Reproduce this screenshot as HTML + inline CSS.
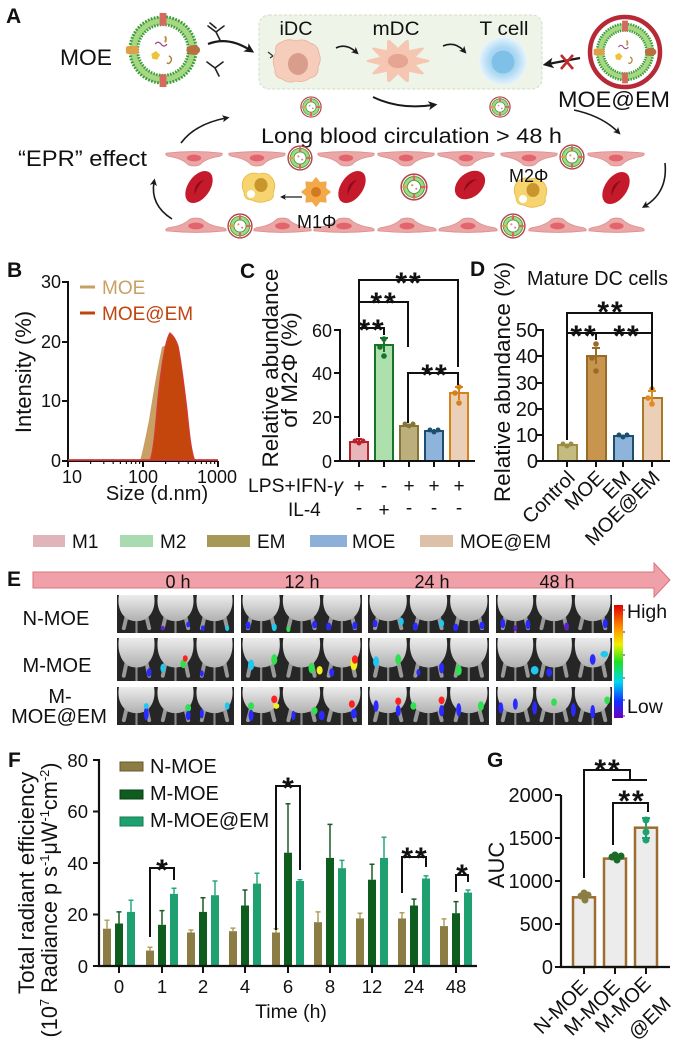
<!DOCTYPE html>
<html><head><meta charset="utf-8"><style>
html,body{margin:0;padding:0;background:#fff;width:700px;height:1042px;overflow:hidden}
svg{display:block}
text{font-family:"Liberation Sans",Arial,sans-serif;fill:#111}
</style></head><body>
<svg xmlns="http://www.w3.org/2000/svg" xmlns:xlink="http://www.w3.org/1999/xlink" width="700" height="1042" viewBox="0 0 700 1042">
<defs>
<marker id="ah" viewBox="0 0 10 10" refX="5" refY="5" markerWidth="4.5" markerHeight="4.5" orient="auto"><path d="M0,0 L10,5 L0,10 L2.5,5 Z" fill="#1a1a1a"/></marker>
<linearGradient id="mg" x1="0" y1="0" x2="0" y2="1"><stop offset="0" stop-color="#ececec"/><stop offset="1" stop-color="#b0b0b0"/></linearGradient>
<linearGradient id="cb" x1="0" y1="0" x2="0" y2="1">
<stop offset="0" stop-color="#e00000"/><stop offset="0.2" stop-color="#ff9000"/><stop offset="0.35" stop-color="#f0f000"/><stop offset="0.5" stop-color="#20e020"/><stop offset="0.68" stop-color="#00d8f0"/><stop offset="0.85" stop-color="#1030ff"/><stop offset="1" stop-color="#7000c0"/></linearGradient>
<radialGradient id="tg"><stop offset="0.55" stop-color="#a9d6f2"/><stop offset="1" stop-color="#e6f4fd"/></radialGradient>
<symbol id="lipo" viewBox="-40 -40 80 80">
 <circle r="34" fill="#fff"/>
 <circle r="30" fill="none" stroke="#a6d884" stroke-width="8"/>
 <circle r="34" fill="none" stroke="#3c9a3c" stroke-width="3" stroke-dasharray="1.8 1.4"/>
 <circle r="26" fill="none" stroke="#3c9a3c" stroke-width="3" stroke-dasharray="1.6 1.3"/>
 <rect x="-3.5" y="-38" width="7" height="13" fill="#d46a5e"/>
 <rect x="-3.5" y="25" width="7" height="13" fill="#d46a5e"/>
 <rect x="-38" y="-4" width="13" height="8" rx="2" fill="#e0a048"/>
 <ellipse cx="31" cy="0" rx="7" ry="5" fill="#b87040"/>
 <path d="M-8,-6 q3,-4 6,0 q3,4 6,0" stroke="#a04a8a" stroke-width="1.3" fill="none"/>
 <path d="M2,-14 q2,3 0,6" stroke="#c09040" stroke-width="2" fill="none"/>
 <path d="M-12,4 l5,-3 l4,4 l-3,5 l-5,-1 z" fill="#f0c23c"/>
 <path d="M6,6 q4,2 2,6 q-2,3 -4,1" stroke="#b08040" stroke-width="1.5" fill="none"/>
</symbol>
<symbol id="np" viewBox="-12 -12 24 24">
 <circle r="11" fill="#fff" stroke="#b8404a" stroke-width="1.3"/>
 <circle r="7.3" fill="none" stroke="#a6d884" stroke-width="3.2"/>
 <circle r="9" fill="none" stroke="#3c9a3c" stroke-width="0.8"/>
 <circle r="5.6" fill="none" stroke="#3c9a3c" stroke-width="0.8"/>
 <rect x="-1" y="-10" width="2" height="4.5" fill="#d46a5e"/>
 <rect x="-1" y="5.5" width="2" height="4.5" fill="#d46a5e"/>
 <rect x="-10" y="-1" width="4.5" height="2" fill="#e0a048"/>
 <rect x="5.5" y="-1" width="4.5" height="2" fill="#d46a5e"/>
 <circle cx="-1.5" cy="-1.5" r="1" fill="#d0a060"/><circle cx="2" cy="1.5" r="0.9" fill="#c080a0"/>
</symbol>
<symbol id="endo" viewBox="0 0 60 16" preserveAspectRatio="none">
 <path d="M1,3 Q30,0 59,3 Q60,5 56,6 Q42,8 36,14 Q30,16 24,14 Q18,8 4,6 Q0,5 1,3 Z" fill="#eba6a6" stroke="#dd8f8f" stroke-width="0.8"/>
 <ellipse cx="30" cy="7.5" rx="7.5" ry="3.2" fill="#e2656e"/>
</symbol>
<symbol id="mice" viewBox="0 0 120 40" preserveAspectRatio="none">
 <rect width="120" height="40" fill="#262626"/>
 <g stroke="#9a9a9a" stroke-width="4" stroke-linecap="round" fill="none">
  <path d="M10,22 L7,35 M30,22 L33,35 M50,22 L47,35 M70,22 L73,35 M90,22 L87,35 M110,22 L113,35"/>
 </g>
 <g stroke="#8a8a8a" stroke-width="2.2" fill="none"><path d="M20,27 V40 M60,27 V40 M100,27 V40"/></g>
 <g fill="url(#mg)">
  <path d="M2,0 H38 C40,12 36,22 28,26 Q20,29 12,26 C4,22 0,12 2,0 Z"/>
  <path d="M42,0 H78 C80,12 76,22 68,26 Q60,29 52,26 C44,22 40,12 42,0 Z"/>
  <path d="M82,0 H118 C120,12 116,22 108,26 Q100,29 92,26 C84,22 80,12 82,0 Z"/>
 </g>
</symbol>
</defs>

<!-- ============ PANEL A ============ -->
<text x="6" y="23" font-size="21" font-weight="bold">A</text>
<text x="60" y="65" font-size="22" textLength="52" lengthAdjust="spacingAndGlyphs">MOE</text>
<use href="#lipo" x="124" y="11" width="78" height="78"/>
<g stroke="#222" stroke-width="1.6" fill="none" stroke-linecap="round">
 <path d="M208,26 L216,32 L224,26 M216,32 L220,40"/>
 <path d="M210,23 L216,28"/>
 <path d="M207,62 L215,68 L223,62 M215,68 L219,76"/>
</g>
<path d="M208,44 Q228,36 250,50" stroke="#1a1a1a" stroke-width="2.2" fill="none" marker-end="url(#ah)"/>
<rect x="259" y="15" width="283" height="74" rx="10" fill="#eef5e8" stroke="#cfdcc4" stroke-dasharray="3 2"/>
<text x="296" y="35" font-size="19" text-anchor="middle" textLength="33" lengthAdjust="spacingAndGlyphs">iDC</text>
<text x="396" y="35" font-size="19" text-anchor="middle" textLength="47" lengthAdjust="spacingAndGlyphs">mDC</text>
<text x="504" y="35" font-size="19" text-anchor="middle" textLength="49" lengthAdjust="spacingAndGlyphs">T cell</text>
<path d="M276,52 Q274,44 282,42 Q288,38 296,41 Q304,38 310,43 Q318,45 319,53 Q322,60 318,67 Q319,76 310,78 Q304,83 296,81 Q288,84 282,79 Q274,77 275,69 Q271,60 276,52 Z" fill="#f6cdbb" stroke="#e8b09c" stroke-width="0.8"/>
<ellipse cx="298" cy="64" rx="10" ry="11" fill="#d99d8e"/>
<path d="M268,52 L273,56 M270,58 L273,56" stroke="#333" stroke-width="1.2" fill="none"/>
<path d="M336,48 Q346,43 356,52" stroke="#1a1a1a" stroke-width="1.6" fill="none" marker-end="url(#ah)"/>
<g transform="translate(398,61) scale(1.35,0.95)">
 <polygon points="22,0 11.4,3.7 17.8,12.9 7.1,9.7 6.8,20.9 0,12 -6.8,20.9 -7.1,9.7 -17.8,12.9 -11.4,3.7 -22,0 -11.4,-3.7 -17.8,-12.9 -7.1,-9.7 -6.8,-20.9 0,-12 6.8,-20.9 7.1,-9.7 17.8,-12.9 11.4,-3.7" fill="#f5c6b2" stroke="#f5c6b2" stroke-width="2.5" stroke-linejoin="round"/>
 <circle r="7.5" fill="#e6a592"/>
</g>
<path d="M443,46 Q455,41 464,51" stroke="#1a1a1a" stroke-width="1.6" fill="none" marker-end="url(#ah)"/>
<circle cx="503" cy="61" r="24" fill="url(#tg)"/>
<circle cx="503" cy="62" r="11.5" fill="#7fc0e8"/>
<path d="M580,58 L548,64" stroke="#1a1a1a" stroke-width="2.4" fill="none" marker-end="url(#ah)"/>
<path d="M561,55 L573,69 M573,55 L561,69" stroke="#c0282a" stroke-width="2.6"/>
<circle cx="625" cy="52" r="35" fill="#fff" stroke="#b52a36" stroke-width="4.5"/>
<use href="#lipo" x="592" y="19" width="66" height="66"/>
<text x="558" y="107" font-size="22" textLength="112" lengthAdjust="spacingAndGlyphs">MOE@EM</text>
<use href="#np" x="300" y="96" width="22" height="22"/>
<use href="#np" x="489" y="96" width="22" height="22"/>
<path d="M373,97 Q400,110 433,105" stroke="#1a1a1a" stroke-width="2" fill="none" marker-end="url(#ah)"/>
<text x="261" y="143" font-size="21" textLength="301" lengthAdjust="spacingAndGlyphs">Long blood circulation &gt; 48 h</text>
<path d="M181,143 Q195,124 226,118" stroke="#1a1a1a" stroke-width="1.6" fill="none" marker-end="url(#ah)"/>
<path d="M574,110 Q602,116 618,132" stroke="#1a1a1a" stroke-width="1.6" fill="none" marker-end="url(#ah)"/>
<text x="18" y="166" font-size="22" textLength="129" lengthAdjust="spacingAndGlyphs">“EPR” effect</text>
<use href="#endo" x="165" y="150" width="58" height="17"/>
<use href="#endo" x="228" y="150" width="58" height="17"/>
<use href="#endo" x="317" y="150" width="58" height="17"/>
<use href="#endo" x="377" y="150" width="58" height="17"/>
<use href="#endo" x="437" y="150" width="58" height="17"/>
<use href="#endo" x="500" y="150" width="58" height="17"/>
<use href="#endo" x="587" y="150" width="58" height="17"/>
<g transform="translate(0,451) scale(1,-1)">
<use href="#endo" x="165" y="217" width="62" height="17"/>
<use href="#endo" x="253" y="217" width="59" height="17"/>
<use href="#endo" x="313" y="217" width="62" height="17"/>
<use href="#endo" x="377" y="217" width="60" height="17"/>
<use href="#endo" x="438" y="217" width="60" height="17"/>
<use href="#endo" x="528" y="217" width="59" height="17"/>
<use href="#endo" x="588" y="217" width="57" height="17"/>
</g>
<use href="#np" x="287" y="145" width="26" height="26"/>
<use href="#np" x="559" y="144" width="26" height="26"/>
<use href="#np" x="400" y="173" width="28" height="28"/>
<use href="#np" x="227" y="213" width="26" height="26"/>
<use href="#np" x="500" y="213" width="26" height="26"/>
<g transform="translate(199,187) rotate(-55)"><ellipse rx="18" ry="11" fill="#c41a2b"/><path d="M-9,1 Q0,-7 9,0 Q0,-2 -9,1 Z" fill="#8e0c1a"/></g>
<g transform="translate(352,187) rotate(-55)"><ellipse rx="18" ry="11" fill="#c41a2b"/><path d="M-9,1 Q0,-7 9,0 Q0,-2 -9,1 Z" fill="#8e0c1a"/></g>
<g transform="translate(470,185) rotate(-40)"><ellipse rx="17" ry="12" fill="#c41a2b"/><path d="M-9,1 Q0,-7 9,0 Q0,-2 -9,1 Z" fill="#8e0c1a"/></g>
<g transform="translate(616,188) rotate(-55)"><ellipse rx="18" ry="11" fill="#c41a2b"/><path d="M-9,1 Q0,-7 9,0 Q0,-2 -9,1 Z" fill="#8e0c1a"/></g>
<g transform="translate(259,187)">
 <path d="M-14,-10 Q-8,-16 0,-13 Q8,-16 13,-9 Q18,-2 14,6 Q16,12 8,14 Q0,17 -7,13 Q-15,13 -15,5 Q-19,-3 -14,-10 Z" fill="#f6d470" stroke="#e8b840" stroke-width="0.8"/>
 <ellipse cx="2" cy="-2" rx="6.5" ry="7" fill="#c9962e"/><circle cx="-8" cy="7" r="4" fill="#fff"/>
</g>
<g transform="translate(531,192)">
 <path d="M-14,-10 Q-8,-16 0,-13 Q8,-16 13,-9 Q18,-2 14,6 Q16,12 8,14 Q0,17 -7,13 Q-15,13 -15,5 Q-19,-3 -14,-10 Z" fill="#f6d470" stroke="#e8b840" stroke-width="0.8"/>
 <ellipse cx="2" cy="-2" rx="6.5" ry="7" fill="#c9962e"/><circle cx="-8" cy="7" r="4" fill="#fff"/>
</g>
<g transform="translate(316,192)">
 <polygon points="14,0 9.2,3.8 9.9,9.9 3.8,9.2 0,14 -3.8,9.2 -9.9,9.9 -9.2,3.8 -14,0 -9.2,-3.8 -9.9,-9.9 -3.8,-9.2 0,-14 3.8,-9.2 9.9,-9.9 9.2,-3.8" fill="#f3a94a" stroke="#f3a94a" stroke-width="1.5" stroke-linejoin="round"/>
 <circle r="5" fill="#d27a20"/>
</g>
<path d="M302,197 L283,197" stroke="#1a1a1a" stroke-width="1.3" fill="none" marker-end="url(#ah)"/>
<text x="509" y="182" font-size="18">M2Φ</text>
<text x="297" y="228" font-size="18">M1Φ</text>
<path d="M172,219 Q150,205 154,182" stroke="#1a1a1a" stroke-width="1.6" fill="none" marker-end="url(#ah)"/>
<path d="M665,163 Q668,192 645,206" stroke="#1a1a1a" stroke-width="1.6" fill="none" marker-end="url(#ah)"/>

<!-- ============ PANEL B ============ -->
<text x="7" y="277" font-size="21" font-weight="bold">B</text>
<path d="M140,461 C143,450 146,435 149,420 C153,395 157,370 162,347 L164,346 C168,345 172,350 176,360 C181,380 185,420 189,461 Z" fill="#c9a063"/>
<path d="M150,461 C154,450 156,420 158,398 C161,370 165,340 170,333 C174,336 176,340 178,346 C181,360 184,385 187,410 C189,430 191,452 195,461 Z" fill="#c4460c" stroke="#d63a3a" stroke-width="1.2"/>
<path d="M68,281 V461 H218" stroke="#111" stroke-width="2" fill="none"/>
<path d="M68,460 H218" stroke="#d03a3a" stroke-width="1.8"/>
<g stroke="#111" stroke-width="2">
<path d="M62,282 H68 M62,342 H68 M62,401 H68 M62,461 H68"/>
<path d="M68,461 V467 M143,461 V467 M218,461 V467"/>
</g>
<g stroke="#111" stroke-width="1.2">
<path d="M90.6,461 v3 M103.8,461 v3 M113.2,461 v3 M120.4,461 v3 M126.4,461 v3 M131.4,461 v3 M135.7,461 v3 M139.6,461 v3 M165.6,461 v3 M178.8,461 v3 M188.2,461 v3 M195.4,461 v3 M201.4,461 v3 M206.4,461 v3 M210.7,461 v3 M214.6,461 v3"/>
</g>
<g font-size="18" text-anchor="end">
<text x="61" y="288">30</text><text x="61" y="348">20</text><text x="61" y="407">10</text><text x="61" y="467">0</text>
</g>
<g font-size="18" text-anchor="middle">
<text x="72" y="483">10</text><text x="143" y="483">100</text><text x="217" y="483">1000</text>
</g>
<text x="157" y="500" font-size="20" text-anchor="middle">Size (d.nm)</text>
<text transform="translate(31,372) rotate(-90)" font-size="22" text-anchor="middle">Intensity (%)</text>
<path d="M80,287 H95" stroke="#c9a063" stroke-width="3"/>
<text x="102" y="294" font-size="19" style="fill:#c9a063">MOE</text>
<path d="M80,313 H95" stroke="#c0440e" stroke-width="3"/>
<text x="102" y="320" font-size="19" style="fill:#c0440e">MOE@EM</text>

<!-- ============ PANEL C ============ -->
<text x="240" y="278" font-size="21" font-weight="bold">C</text>
<text transform="translate(278,368) rotate(-90)" font-size="22.5" text-anchor="middle">Relative abundance</text>
<text transform="translate(297,370) rotate(-90)" font-size="22.5" text-anchor="middle">of M2Φ (%)</text>
<g stroke-width="2">
<rect x="350" y="442" width="18" height="19" fill="#e8b6ba" stroke="#b8222c"/>
<rect x="375" y="345" width="18" height="116" fill="#aee0ae" stroke="#18742a"/>
<rect x="400" y="426" width="18" height="35" fill="#bbb07c" stroke="#857536"/>
<rect x="425" y="431" width="18" height="30" fill="#8fb4dc" stroke="#1c4f6e"/>
<rect x="450" y="393" width="18" height="68" fill="#ead0b8" stroke="#d8801a"/>
</g>
<g stroke-width="2" fill="none">
<path d="M359,439 V445 M356,439 H362" stroke="#b8222c"/>
<path d="M384,338 V352 M380,338 H388" stroke="#18742a"/>
<path d="M459,387 V400 M455,387 H463" stroke="#d8801a"/>
<path d="M434,429 V433" stroke="#1c4f6e"/>
</g>
<g>
<circle cx="355" cy="441" r="2.5" fill="#b8222c"/><circle cx="359" cy="443" r="2.5" fill="#b8222c"/><circle cx="363" cy="441" r="2.5" fill="#b8222c"/>
<circle cx="384" cy="339" r="2.8" fill="#18742a"/><circle cx="380" cy="347" r="2.8" fill="#18742a"/><circle cx="384" cy="356" r="2.8" fill="#18742a"/>
<circle cx="405" cy="424" r="2.5" fill="#857536"/><circle cx="409" cy="426" r="2.5" fill="#857536"/><circle cx="413" cy="424" r="2.5" fill="#857536"/>
<circle cx="430" cy="430" r="2.5" fill="#1c4f6e"/><circle cx="434" cy="432" r="2.5" fill="#1c4f6e"/><circle cx="438" cy="430" r="2.5" fill="#1c4f6e"/>
<circle cx="459" cy="387" r="2.8" fill="#d8801a"/><circle cx="455" cy="393" r="2.8" fill="#d8801a"/><circle cx="459" cy="403" r="2.8" fill="#d8801a"/>
</g>
<path d="M340,329 V461 H475" stroke="#111" stroke-width="2" fill="none"/>
<g stroke="#111" stroke-width="2">
<path d="M334,330 H340 M334,373 H340 M334,417 H340 M334,461 H340"/>
<path d="M359,461 V467 M384,461 V467 M409,461 V467 M434,461 V467 M459,461 V467"/>
</g>
<g font-size="18" text-anchor="end">
<text x="332" y="337">60</text><text x="332" y="380">40</text><text x="332" y="424">20</text><text x="332" y="468">0</text>
</g>
<g stroke="#111" stroke-width="2" fill="none">
<path d="M359,437 V280 H458 V367"/>
<path d="M359,302 H408 V347"/>
<path d="M359,328 H384 V335"/>
<path d="M408,423 V373 H458 V385"/>
</g>
<g font-size="30" font-weight="bold" text-anchor="middle" letter-spacing="2">
<text x="372" y="340">**</text><text x="384" y="313">**</text><text x="409" y="293">**</text><text x="435" y="385">**</text>
</g>
<text x="248" y="492" font-size="19" textLength="95" lengthAdjust="spacingAndGlyphs">LPS+IFN-<tspan font-style="italic">γ</tspan></text>
<text x="288" y="516" font-size="19">IL-4</text>
<g font-size="19" text-anchor="middle">
<text x="359" y="492">+</text><text x="384" y="492">-</text><text x="409" y="492">+</text><text x="434" y="492">+</text><text x="459" y="492">+</text>
<text x="359" y="514">-</text><text x="384" y="516">+</text><text x="409" y="514">-</text><text x="434" y="514">-</text><text x="459" y="514">-</text>
</g>

<!-- ============ PANEL D ============ -->
<text x="470" y="276" font-size="21" font-weight="bold">D</text>
<text x="527" y="285" font-size="20" textLength="141" lengthAdjust="spacingAndGlyphs">Mature DC cells</text>
<text transform="translate(510,382) rotate(-90)" font-size="22.5" text-anchor="middle">Relative abundance (%)</text>
<g stroke-width="2">
<rect x="558" y="445" width="19" height="16" fill="#c4bb80" stroke="#9c8c42"/>
<rect x="587" y="356" width="19" height="105" fill="#c8954f" stroke="#9a6b28"/>
<rect x="614" y="436" width="19" height="25" fill="#8fb4dc" stroke="#1c4f6e"/>
<rect x="643" y="398" width="19" height="63" fill="#ebcfb6" stroke="#a87a28"/>
</g>
<g stroke-width="2" fill="none">
<path d="M596,348 V364 M592,348 H600" stroke="#9a6b28"/>
<path d="M652,391 V405 M648,391 H656" stroke="#e08a20"/>
</g>
<circle cx="563" cy="444" r="2.5" fill="#9c8c42"/><circle cx="567" cy="446" r="2.5" fill="#9c8c42"/><circle cx="571" cy="444" r="2.5" fill="#9c8c42"/>
<circle cx="596" cy="344" r="2.8" fill="#9a6b28"/><circle cx="592" cy="358" r="2.8" fill="#9a6b28"/><circle cx="596" cy="371" r="2.8" fill="#9a6b28"/>
<circle cx="619" cy="435" r="2.5" fill="#1c4f6e"/><circle cx="623" cy="437" r="2.5" fill="#1c4f6e"/><circle cx="627" cy="435" r="2.5" fill="#1c4f6e"/>
<circle cx="652" cy="389" r="2.8" fill="#e08a20"/><circle cx="648" cy="398" r="2.8" fill="#e08a20"/><circle cx="652" cy="404" r="2.8" fill="#e08a20"/>
<path d="M543,329 V461 H670" stroke="#111" stroke-width="2" fill="none"/>
<g stroke="#111" stroke-width="2">
<path d="M537,330 H543 M537,356 H543 M537,383 H543 M537,409 H543 M537,435 H543 M537,461 H543"/>
<path d="M567,461 V467 M596,461 V467 M623,461 V467 M652,461 V467"/>
</g>
<g font-size="20" text-anchor="end">
<text x="538" y="337">50</text><text x="538" y="363">40</text><text x="538" y="390">30</text><text x="538" y="416">20</text><text x="538" y="442">10</text><text x="538" y="468">0</text>
</g>
<g stroke="#111" stroke-width="2" fill="none">
<path d="M567,440 V313 H652 V333"/>
<path d="M567,333 H596 V340"/>
<path d="M596,333 H652 V390"/>
</g>
<g font-size="30" font-weight="bold" text-anchor="middle" letter-spacing="2">
<text x="611" y="322">**</text><text x="584" y="346">**</text><text x="627" y="346">**</text>
</g>
<g font-size="20" text-anchor="end">
<text transform="translate(576,479) rotate(-45)">Control</text>
<text transform="translate(605,479) rotate(-45)">MOE</text>
<text transform="translate(632,479) rotate(-45)">EM</text>
<text transform="translate(661,479) rotate(-45)">MOE@EM</text>
</g>

<!-- ============ Legend row ============ -->
<rect x="33" y="535" width="32" height="12" fill="#e0b4b8"/><text x="72" y="548" font-size="19">M1</text>
<rect x="120" y="535" width="33" height="12" fill="#a8dcb0"/><text x="160" y="548" font-size="19">M2</text>
<rect x="207" y="535" width="43" height="12" fill="#a89858"/><text x="257" y="548" font-size="19">EM</text>
<rect x="310" y="535" width="37" height="12" fill="#8cb0d8"/><text x="352" y="548" font-size="19">MOE</text>
<rect x="420" y="535" width="33" height="12" fill="#dcc0a8"/><text x="460" y="548" font-size="19">MOE@EM</text>

<!-- ============ PANEL E ============ -->
<text x="7" y="586" font-size="21" font-weight="bold">E</text>
<polygon points="33,572 654,572 654,563 670,580 654,597 654,588 33,588" fill="#f0a0a8" stroke="#d9737f" stroke-width="1"/>
<g font-size="18" text-anchor="middle">
<text x="178" y="588">0 h</text><text x="302" y="588">12 h</text><text x="432" y="588">24 h</text><text x="557" y="588">48 h</text>
</g>
<g font-size="20" text-anchor="middle">
<text x="56" y="625">N-MOE</text><text x="57" y="672">M-MOE</text><text x="60" y="703">M-</text><text x="59" y="723">MOE@EM</text>
</g>
<g stroke="none">
<g transform="translate(117,595) scale(0.975,0.95)"><use href="#mice" width="120" height="40"/>
 <ellipse cx="73" cy="31" rx="2" ry="3" fill="#2a2aff"/><ellipse cx="88" cy="35" rx="2" ry="3" fill="#2a2aff"/><ellipse cx="47" cy="35" rx="2" ry="2.5" fill="#6020d0"/><ellipse cx="113" cy="35" rx="2" ry="3" fill="#20c8f0"/></g>
<g transform="translate(241,595) scale(1.008,0.95)"><use href="#mice" width="120" height="40"/>
 <ellipse cx="7" cy="32" rx="2.5" ry="4" fill="#2a2aff"/><ellipse cx="33" cy="34" rx="2.5" ry="4" fill="#20c8f0"/><ellipse cx="47" cy="36" rx="2" ry="3" fill="#30e050"/><ellipse cx="73" cy="31" rx="2.5" ry="4" fill="#2a2aff"/><ellipse cx="87" cy="33" rx="2.5" ry="4" fill="#2a2aff"/><ellipse cx="113" cy="32" rx="2.5" ry="4" fill="#2a2aff"/></g>
<g transform="translate(368,595) scale(1.008,0.95)"><use href="#mice" width="120" height="40"/>
 <ellipse cx="7" cy="30" rx="2.5" ry="4" fill="#2a2aff"/><ellipse cx="33" cy="28" rx="2.5" ry="4" fill="#20c8f0"/><ellipse cx="47" cy="33" rx="2.5" ry="4" fill="#2a2aff"/><ellipse cx="73" cy="30" rx="2.5" ry="4" fill="#20c8f0"/><ellipse cx="87" cy="34" rx="2.5" ry="4" fill="#2a2aff"/><ellipse cx="113" cy="32" rx="2.5" ry="4" fill="#2a2aff"/></g>
<g transform="translate(496,595) scale(0.967,0.95)"><use href="#mice" width="120" height="40"/>
 <ellipse cx="7" cy="30" rx="2.5" ry="5" fill="#2a2aff"/><ellipse cx="20" cy="35" rx="2" ry="3" fill="#6020d0"/><ellipse cx="33" cy="31" rx="2.5" ry="5" fill="#2a2aff"/><ellipse cx="73" cy="33" rx="2.5" ry="4" fill="#6020d0"/><ellipse cx="113" cy="30" rx="2.5" ry="5" fill="#2a2aff"/></g>
<g transform="translate(117,638) scale(0.975,1.075)"><use href="#mice" width="120" height="40"/>
 <ellipse cx="33" cy="32" rx="2.5" ry="4" fill="#2a2aff"/><ellipse cx="47" cy="28" rx="2.5" ry="4" fill="#20c8f0"/><ellipse cx="68" cy="24" rx="3" ry="4" fill="#30e050"/><ellipse cx="70" cy="19" rx="2.5" ry="3" fill="#ff2020"/><ellipse cx="87" cy="33" rx="2" ry="3" fill="#2a2aff"/></g>
<g transform="translate(241,638) scale(1.008,1.075)"><use href="#mice" width="120" height="40"/>
 <ellipse cx="10" cy="25" rx="3" ry="5" fill="#20c8f0"/><ellipse cx="33" cy="20" rx="3" ry="5" fill="#30e050"/><ellipse cx="70" cy="28" rx="3" ry="5" fill="#30e050"/><ellipse cx="78" cy="30" rx="3" ry="4" fill="#f0f020"/><ellipse cx="112" cy="24" rx="3.5" ry="6" fill="#f0f020"/><ellipse cx="113" cy="20" rx="3" ry="4" fill="#ff2020"/><ellipse cx="90" cy="32" rx="2.5" ry="4" fill="#2a2aff"/></g>
<g transform="translate(368,638) scale(1.008,1.075)"><use href="#mice" width="120" height="40"/>
 <ellipse cx="8" cy="22" rx="3" ry="5" fill="#20c8f0"/><ellipse cx="30" cy="20" rx="3" ry="5" fill="#30e050"/><ellipse cx="73" cy="28" rx="2.5" ry="5" fill="#2a2aff"/><ellipse cx="90" cy="30" rx="3" ry="5" fill="#30e050"/><ellipse cx="50" cy="32" rx="2" ry="3" fill="#2a2aff"/></g>
<g transform="translate(496,638) scale(0.967,1.075)"><use href="#mice" width="120" height="40"/>
 <ellipse cx="40" cy="30" rx="4" ry="4" fill="#20c8f0"/><ellipse cx="55" cy="32" rx="3" ry="4" fill="#2a2aff"/><ellipse cx="100" cy="20" rx="3" ry="5" fill="#2a2aff"/><ellipse cx="112" cy="15" rx="4" ry="3" fill="#20c8f0"/></g>
<g transform="translate(117,687) scale(0.975,0.95)"><use href="#mice" width="120" height="40"/>
 <ellipse cx="30" cy="28" rx="2.5" ry="7" fill="#2a2aff"/><ellipse cx="30" cy="20" rx="2.5" ry="3" fill="#20c8f0"/><ellipse cx="73" cy="22" rx="3" ry="4" fill="#30e050"/><ellipse cx="73" cy="30" rx="2.5" ry="5" fill="#2a2aff"/><ellipse cx="113" cy="20" rx="2.5" ry="4" fill="#20c8f0"/><ellipse cx="87" cy="28" rx="2" ry="5" fill="#2a2aff"/></g>
<g transform="translate(241,687) scale(1.008,0.95)"><use href="#mice" width="120" height="40"/>
 <ellipse cx="10" cy="20" rx="3" ry="4" fill="#30e050"/><ellipse cx="10" cy="30" rx="2.5" ry="6" fill="#2a2aff"/><ellipse cx="33" cy="13" rx="3" ry="4" fill="#ff2020"/><ellipse cx="35" cy="20" rx="3" ry="3" fill="#f0f020"/><ellipse cx="73" cy="25" rx="3" ry="4" fill="#30e050"/><ellipse cx="80" cy="30" rx="3" ry="5" fill="#2a2aff"/><ellipse cx="110" cy="18" rx="3" ry="4" fill="#ff2020"/><ellipse cx="112" cy="28" rx="3" ry="5" fill="#2a2aff"/><ellipse cx="52" cy="30" rx="2" ry="5" fill="#2a2aff"/></g>
<g transform="translate(368,687) scale(1.008,0.95)"><use href="#mice" width="120" height="40"/>
 <ellipse cx="8" cy="20" rx="2.5" ry="6" fill="#2a2aff"/><ellipse cx="30" cy="15" rx="3" ry="4" fill="#ff2020"/><ellipse cx="30" cy="25" rx="2.5" ry="6" fill="#2a2aff"/><ellipse cx="45" cy="20" rx="3" ry="4" fill="#30e050"/><ellipse cx="73" cy="14" rx="3" ry="4" fill="#ff2020"/><ellipse cx="73" cy="25" rx="2.5" ry="6" fill="#2a2aff"/><ellipse cx="90" cy="24" rx="2.5" ry="7" fill="#2a2aff"/><ellipse cx="112" cy="20" rx="3" ry="5" fill="#30e050"/></g>
<g transform="translate(496,687) scale(0.967,0.95)"><use href="#mice" width="120" height="40"/>
 <ellipse cx="5" cy="22" rx="2.5" ry="6" fill="#2a2aff"/><ellipse cx="20" cy="18" rx="2.5" ry="6" fill="#2a2aff"/><ellipse cx="40" cy="22" rx="2.5" ry="7" fill="#2a2aff"/><ellipse cx="60" cy="16" rx="3" ry="4" fill="#30e050"/><ellipse cx="80" cy="24" rx="2.5" ry="7" fill="#2a2aff"/><ellipse cx="100" cy="26" rx="2.5" ry="7" fill="#2a2aff"/><ellipse cx="115" cy="14" rx="3" ry="4" fill="#30e050"/></g>
</g>
<rect x="614" y="605" width="9" height="113" fill="url(#cb)"/>
<g stroke="#333" stroke-width="1"><path d="M623,610 h2 M623,632 h2 M623,655 h2 M623,678 h2 M623,700 h2 M623,716 h2"/></g>
<text x="627" y="618" font-size="19.5">High</text>
<text x="627" y="713" font-size="19.5">Low</text>

<!-- ============ PANEL F ============ -->
<text x="8" y="767" font-size="21" font-weight="bold">F</text>
<text transform="translate(34,883) rotate(-90)" font-size="22.5" text-anchor="middle">Total radiant efficiency</text>
<text transform="translate(57,900) rotate(-90)" font-size="22" text-anchor="middle" textLength="275" lengthAdjust="spacingAndGlyphs">(10<tspan font-size="13" dy="-8">7</tspan><tspan dy="8"> Radiance p s</tspan><tspan font-size="13" dy="-8">-1</tspan><tspan dy="8">μW</tspan><tspan font-size="13" dy="-8">-1</tspan><tspan dy="8">cm</tspan><tspan font-size="13" dy="-8">-2</tspan><tspan dy="8">)</tspan></text>
<rect x="120" y="762" width="23" height="9" fill="#8b7d43" stroke="#6a5c28"/><text x="150" y="773" font-size="20">N-MOE</text>
<rect x="120" y="790" width="23" height="9" fill="#0e5c1e" stroke="#0a4014"/><text x="150" y="800" font-size="20">M-MOE</text>
<rect x="120" y="817" width="23" height="9" fill="#1fa070" stroke="#147a52"/><text x="150" y="827" font-size="20">M-MOE@EM</text>
<g fill="#8b7d43">
<rect x="103" y="928.7" width="8" height="37.3"/><rect x="146" y="950.6" width="8" height="15.4"/><rect x="187" y="932.5" width="8" height="33.5"/><rect x="229" y="931.2" width="8" height="34.8"/><rect x="272" y="932.5" width="8" height="33.5"/><rect x="314" y="922.2" width="8" height="43.8"/><rect x="356" y="918.4" width="8" height="47.6"/><rect x="398" y="918.4" width="8" height="47.6"/><rect x="440" y="926.1" width="8" height="39.9"/>
</g>
<g stroke="#b0a060" stroke-width="1.5" fill="none">
<path d="M107,928.7 V920.2 M104.5,920.2 H109.5 M150,950.6 V947.2 M147.5,947.2 H152.5 M191,932.5 V930 M188.5,930 H193.5 M233,931.2 V928.1 M230.5,928.1 H235.5 M276,932.5 V928.7 M273.5,928.7 H278.5 M318,922.2 V911.9 M315.5,911.9 H320.5 M360,918.4 V913.2 M357.5,913.2 H362.5 M402,918.4 V912.7 M399.5,912.7 H404.5 M444,926.1 V918.9 M441.5,918.9 H446.5"/>
</g>
<g fill="#0e5c1e">
<rect x="115" y="923.5" width="8" height="42.5"/><rect x="158" y="924.8" width="8" height="41.2"/><rect x="199" y="911.9" width="8" height="54.1"/><rect x="241" y="905.5" width="8" height="60.5"/><rect x="284" y="852.7" width="8" height="113.3"/><rect x="326" y="857.9" width="8" height="108.1"/><rect x="368" y="879.7" width="8" height="86.3"/><rect x="410" y="905.5" width="8" height="60.5"/><rect x="452" y="913.2" width="8" height="52.8"/>
</g>
<g stroke="#1d5a25" stroke-width="1.5" fill="none">
<path d="M119,923.5 V911.9 M116.5,911.9 H121.5 M162,924.8 V910.6 M159.5,910.6 H164.5 M203,911.9 V897.8 M200.5,897.8 H205.5 M245,905.5 V890 M242.5,890 H247.5 M288,852.7 V803.8 M285.5,803.8 H290.5 M330,857.9 V824.4 M327.5,824.4 H332.5 M372,879.7 V864.3 M369.5,864.3 H374.5 M414,905.5 V899.1 M411.5,899.1 H416.5 M456,913.2 V901.6 M453.5,901.6 H458.5"/>
</g>
<g fill="#1fa070">
<rect x="127" y="911.9" width="8" height="54.1"/><rect x="170" y="893.9" width="8" height="72.1"/><rect x="211" y="895.2" width="8" height="70.8"/><rect x="253" y="883.6" width="8" height="82.4"/><rect x="296" y="881" width="8" height="85"/><rect x="338" y="868.2" width="8" height="97.8"/><rect x="380" y="857.9" width="8" height="108.1"/><rect x="422" y="878.5" width="8" height="87.5"/><rect x="464" y="892.6" width="8" height="73.4"/>
</g>
<g stroke="#2aa87a" stroke-width="1.5" fill="none">
<path d="M131,911.9 V900.3 M128.5,900.3 H133.5 M174,893.9 V888.2 M171.5,888.2 H176.5 M215,895.2 V881 M212.5,881 H217.5 M257,883.6 V873.3 M254.5,873.3 H259.5 M300,881 V879.7 M297.5,879.7 H302.5 M342,868.2 V860.4 M339.5,860.4 H344.5 M384,857.9 V837.3 M381.5,837.3 H386.5 M426,878.5 V875.9 M423.5,875.9 H428.5 M468,892.6 V890 M465.5,890 H470.5"/>
</g>
<path d="M99,759 V966 H477" stroke="#111" stroke-width="2.2" fill="none"/>
<g stroke="#111" stroke-width="2">
<path d="M93,760 H99 M93,811.5 H99 M93,863 H99 M93,914.5 H99 M93,966 H99"/>
<path d="M119,966 V973 M162,966 V973 M203,966 V973 M245,966 V973 M288,966 V973 M330,966 V973 M372,966 V973 M414,966 V973 M456,966 V973"/>
</g>
<g font-size="18.5" text-anchor="end">
<text x="88" y="767">80</text><text x="88" y="818">60</text><text x="88" y="870">40</text><text x="88" y="921">20</text><text x="88" y="973">0</text>
</g>
<g font-size="18.5" text-anchor="middle">
<text x="119" y="993">0</text><text x="162" y="993">1</text><text x="203" y="993">2</text><text x="245" y="993">4</text><text x="288" y="993">6</text><text x="330" y="993">8</text><text x="372" y="993">12</text><text x="414" y="993">24</text><text x="456" y="993">48</text>
</g>
<text x="291" y="1018" font-size="19.5" text-anchor="middle">Time (h)</text>
<g stroke="#111" stroke-width="2" fill="none">
<path d="M150,937 V868 H174 V880"/>
<path d="M276,930 V786 H300 V870"/>
<path d="M402,893 V857 H426 V867"/>
<path d="M456,892 V875 H468 V882"/>
</g>
<g font-size="30" font-weight="bold" text-anchor="middle" letter-spacing="2">
<text x="163" y="880">*</text><text x="289" y="798">*</text><text x="415" y="868">**</text><text x="463" y="885">*</text>
</g>

<!-- ============ PANEL G ============ -->
<text x="487" y="767" font-size="21" font-weight="bold">G</text>
<text transform="translate(504,865) rotate(-90)" font-size="22" text-anchor="middle">AUC</text>
<g fill="#ececec" stroke="#9c6d2e" stroke-width="2.5">
<rect x="573" y="897.3" width="22" height="69.7"/>
<rect x="604" y="858.6" width="22" height="108.4"/>
<rect x="635" y="827.7" width="22" height="139.3"/>
</g>
<circle cx="581" cy="896" r="3.5" fill="#8b7d43"/><circle cx="585" cy="900" r="3.5" fill="#8b7d43"/><circle cx="588" cy="895" r="3.5" fill="#8b7d43"/><circle cx="584" cy="893" r="3.5" fill="#8b7d43"/>
<circle cx="612" cy="857" r="3.5" fill="#1a6a2a"/><circle cx="617" cy="860" r="3.5" fill="#1a6a2a"/><circle cx="621" cy="856" r="3.5" fill="#1a6a2a"/><circle cx="615" cy="855" r="3.5" fill="#1a6a2a"/>
<path d="M646,818 V838 M642,818 H650 M642,838 H650" stroke="#1fa070" stroke-width="2" fill="none"/>
<circle cx="646" cy="820" r="3.5" fill="#1fa070"/><circle cx="646" cy="832" r="3.5" fill="#1fa070"/><circle cx="646" cy="840" r="3.5" fill="#1fa070"/>
<path d="M561,795 V967 H670" stroke="#111" stroke-width="2.2" fill="none"/>
<g stroke="#111" stroke-width="2">
<path d="M555,795 H561 M555,838 H561 M555,881 H561 M555,924 H561 M555,967 H561"/>
<path d="M584,967 V974 M615,967 V974 M646,967 V974"/>
</g>
<g font-size="20" text-anchor="end">
<text x="553" y="802">2000</text><text x="553" y="845">1500</text><text x="553" y="888">1000</text><text x="553" y="931">500</text><text x="553" y="974">0</text>
</g>
<g stroke="#111" stroke-width="2" fill="none">
<path d="M584,878 V770 H630 V780"/>
<path d="M612,780 H647"/>
<path d="M613,845 V803 H648 V812"/>
</g>
<g font-size="30" font-weight="bold" text-anchor="middle" letter-spacing="2">
<text x="608" y="780">**</text><text x="632" y="811">**</text>
</g>
<g font-size="20" text-anchor="end">
<text transform="translate(589,988) rotate(-45)">N-MOE</text>
<text transform="translate(621,988) rotate(-45)">M-MOE</text>
<text transform="translate(652,985) rotate(-45)">M-MOE</text>
<text transform="translate(672,1005) rotate(-45)">@EM</text>
</g>
</svg>
</body></html>
